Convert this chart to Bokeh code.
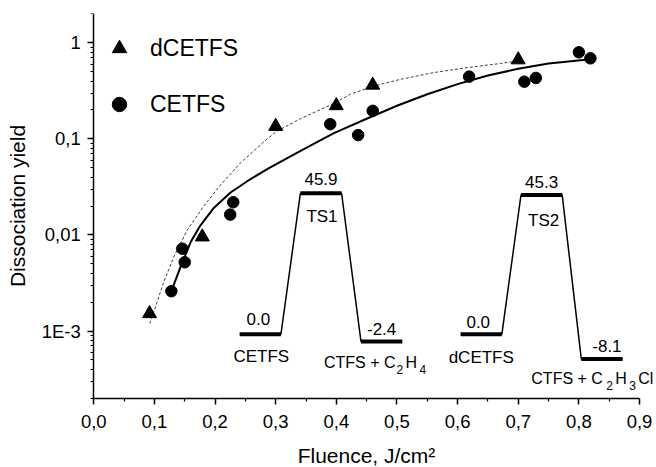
from bokeh.plotting import figure
from bokeh.models import (Range1d, LinearScale, Label, Legend, LegendItem,
                          FixedTicker, CustomJSTickFormatter)
from bokeh.embed import file_html
from bokeh.resources import INLINE

FONT = "Liberation Sans"

# ---- measured data ----
dcetfs_x = [0.092, 0.179, 0.300, 0.400, 0.460, 0.700]
dcetfs_y = [1.52e-3, 9.55e-3, 0.135, 0.222, 0.363, 0.666]

cetfs_x = [0.128, 0.146, 0.150, 0.225, 0.230, 0.390, 0.436, 0.460, 0.619, 0.710, 0.729, 0.800, 0.819]
cetfs_y = [2.6e-3, 7.2e-3, 5.2e-3, 0.0163, 0.0219, 0.1425, 0.1095, 0.196, 0.445, 0.394, 0.431, 0.797, 0.69]

# fitted curve through CETFS (solid)
fit_cetfs_x = [0.128, 0.145, 0.160, 0.176, 0.198, 0.225, 0.258, 0.286, 0.341, 0.396,
               0.450, 0.500, 0.550, 0.600, 0.650, 0.700, 0.750, 0.819]
fit_cetfs_y = [0.0026, 0.0050, 0.0085, 0.0126, 0.0191, 0.0275, 0.0380, 0.0484, 0.0750, 0.1148,
               0.1622, 0.2213, 0.2917, 0.3715, 0.4571, 0.5370, 0.6095, 0.6761]

# dotted curve through dCETFS
fit_dcetfs_x = [0.0923, 0.1017, 0.1154, 0.1319, 0.154, 0.1814, 0.2089, 0.2418, 0.2859, 0.302,
                0.3408, 0.3957, 0.4232, 0.4616, 0.5056, 0.5605, 0.6156, 0.6705, 0.698]
fit_dcetfs_y = [1.20e-3, 1.78e-3, 3.24e-3, 5.89e-3, 0.01122, 0.01995, 0.0331, 0.0562, 0.100, 0.1202,
                0.1622, 0.2344, 0.2917, 0.3548, 0.4169, 0.4898, 0.5521, 0.6095, 0.6457]

x_ticks = [0.0, 0.1, 0.2, 0.3, 0.4, 0.5, 0.6, 0.7, 0.8, 0.9]
y_ticks = [1e-3, 1e-2, 1e-1, 1.0]

# energy diagram (kcal/mol)
diag1_names = ["CETFS", "TS1", "CTFS + C2H4"]
diag1_E = [0.0, 45.9, -2.4]
diag2_names = ["dCETFS", "TS2", "CTFS + C2H3Cl"]
diag2_E = [0.0, 45.3, -8.1]

X_MIN, X_MAX = 0.0, 0.9
Y_MIN, Y_MAX = 2.0e-4, 2.02

# ---- figure ----
# The frame covers the whole canvas below a 13 px top border so that no text is clipped;
# both axes are pinned at the data origin and bounded to the data ranges.
p = figure(width=656, height=467, output_backend="svg", toolbar_location=None,
           y_axis_type="log", x_range=Range1d(-0.1538, 0.928), y_range=Range1d(3.8e-5, Y_MAX),
           min_border_left=0, min_border_right=0, min_border_top=13, min_border_bottom=0)
p.outline_line_color = None
p.xgrid.visible = False
p.ygrid.visible = False
p.background_fill_color = "white"
p.border_fill_color = "white"

minor_x = [0.05 + 0.1 * i for i in range(9)]
p.xaxis.ticker = FixedTicker(ticks=x_ticks, minor_ticks=minor_x)
p.xaxis.formatter = CustomJSTickFormatter(code="return tick.toFixed(1).replace('.', ',');")
p.xaxis.bounds = (X_MIN, X_MAX)
p.xaxis.fixed_location = Y_MIN

minor_y = []
for dec in [1e-4, 1e-3, 1e-2, 1e-1, 1.0]:
    for k in range(2, 10):
        if Y_MIN <= k * dec <= Y_MAX:
            minor_y.append(k * dec)
p.yaxis.ticker = FixedTicker(ticks=y_ticks, minor_ticks=minor_y)
p.yaxis.formatter = CustomJSTickFormatter(code="""
const k = Math.round(Math.log10(tick));
const m = {"-3": "1E-3", "-2": "0,01", "-1": "0,1", "0": "1"};
return m[String(k)] || "";
""")
p.yaxis.bounds = (Y_MIN, Y_MAX)
p.yaxis.fixed_location = X_MIN

for ax in [p.xaxis[0], p.yaxis[0]]:
    ax.axis_line_width = 1.5
    ax.axis_line_color = "black"
    ax.major_tick_line_width = 1.5
    ax.minor_tick_line_width = 1.2
    ax.major_tick_line_color = "black"
    ax.minor_tick_line_color = "black"
    ax.major_tick_in = 0
    ax.major_tick_out = 6
    ax.minor_tick_in = 0
    ax.minor_tick_out = 3
    ax.major_label_text_font = FONT
    ax.major_label_text_font_size = "18.5px"
    ax.major_label_text_color = "black"
    ax.axis_label_text_font = FONT
    ax.axis_label_text_font_size = "21px"
    ax.axis_label_text_font_style = "normal"
    ax.axis_label_text_color = "black"

p.xaxis.axis_label = "Fluence, J/cm²"
p.yaxis.axis_label = "Dissociation yield"
p.xaxis.major_label_standoff = 11
p.xaxis.axis_label_standoff = 12
p.yaxis.major_label_standoff = 7
p.yaxis.axis_label_standoff = 9

# curves
p.line(fit_dcetfs_x, fit_dcetfs_y, line_color="#444444", line_width=1, line_dash="3 2")
p.line(fit_cetfs_x, fit_cetfs_y, line_color="black", line_width=2)

# data points
tri = p.scatter(dcetfs_x, dcetfs_y, marker="triangle", size=14, fill_color="black", line_color="black")
circ = p.scatter(cetfs_x, cetfs_y, marker="circle", size=11.5, fill_color="black", line_color="black")

legend = Legend(items=[LegendItem(label="dCETFS", renderers=[tri]),
                       LegendItem(label="CETFS", renderers=[circ])],
                location=(101, 345), glyph_width=36, glyph_height=36, spacing=20,
                label_standoff=13, padding=0, margin=0, border_line_color=None,
                background_fill_alpha=0, label_text_font=FONT, label_text_font_size="23px",
                label_text_color="black")
p.add_layout(legend)

# ---- energy diagram inset (linear energy scale on an extra range) ----
p.extra_y_ranges = {"E": Range1d(-43.42, 104.46)}
p.extra_y_scales = {"E": LinearScale()}

LEVEL_W = 0.068

def draw_diagram(x0, step, energies):
    lefts = [x0 + step * i for i in range(3)]
    rights = [l + LEVEL_W for l in lefts]
    px, py = [], []
    for l, r, e in zip(lefts, rights, energies):
        px += [l, r]
        py += [e, e]
    p.line(px, py, y_range_name="E", line_color="black", line_width=1.5)
    p.segment(x0=lefts, y0=energies, x1=rights, y1=energies, y_range_name="E",
              line_color="black", line_width=4)
    return lefts, rights

l1, r1 = draw_diagram(0.2407, 0.1, diag1_E)
l2, r2 = draw_diagram(0.605, 0.0995, diag2_E)

SHIFT = 6.5  # baseline correction

def lab(text, x, e, xo=0, yo=0, size="17px", align="center"):
    p.add_layout(Label(x=x, y=e, y_range_name="E", text=text, x_offset=xo, y_offset=yo + SHIFT,
                       text_font=FONT, text_font_size=size, text_align=align,
                       text_baseline="alphabetic", text_color="black"))

c1 = [(a + b) / 2 for a, b in zip(l1, r1)]
c2 = [(a + b) / 2 for a, b in zip(l2, r2)]

# energy values
lab(f"{diag1_E[0]:.1f}", c1[0], diag1_E[0], xo=-2, yo=9)
lab(f"{diag1_E[1]:.1f}", c1[1], diag1_E[1], xo=0, yo=7.5)
lab(f"{diag1_E[2]:.1f}", c1[2], diag1_E[2], xo=0, yo=6.5)
lab(f"{diag2_E[0]:.1f}", c2[0], diag2_E[0], xo=-3, yo=6)
lab(f"{diag2_E[1]:.1f}", c2[1], diag2_E[1], xo=0, yo=6.5)
lab(f"{diag2_E[2]:.1f}", c2[2], diag2_E[2], xo=5, yo=6.5)

# species names
lab(diag1_names[0], c1[0], diag1_E[0], xo=1, yo=-29)
lab(diag1_names[1], c1[1], diag1_E[1], xo=1, yo=-30)
lab(diag2_names[0], c2[0], diag2_E[0], xo=0, yo=-30)
lab(diag2_names[1], c2[1], diag2_E[1], xo=2, yo=-32)

# product labels with subscripts
lab("CTFS + C", l1[2], diag1_E[2], xo=-37, yo=-27, size="16px", align="left")
lab("2", l1[2], diag1_E[2], xo=35.5, yo=-34, size="12px", align="left")
lab("H", l1[2], diag1_E[2], xo=44.5, yo=-27, size="16px", align="left")
lab("4", l1[2], diag1_E[2], xo=58.5, yo=-34, size="12px", align="left")

lab("CTFS + C", l2[2], diag2_E[2], xo=-50, yo=-26, size="16px", align="left")
lab("2", l2[2], diag2_E[2], xo=25, yo=-33, size="12px", align="left")
lab("H", l2[2], diag2_E[2], xo=34, yo=-26, size="16px", align="left")
lab("3", l2[2], diag2_E[2], xo=48, yo=-33, size="12px", align="left")
lab("Cl", l2[2], diag2_E[2], xo=57, yo=-26, size="16px", align="left")

open("out.html", "w").write(file_html(p, INLINE))
